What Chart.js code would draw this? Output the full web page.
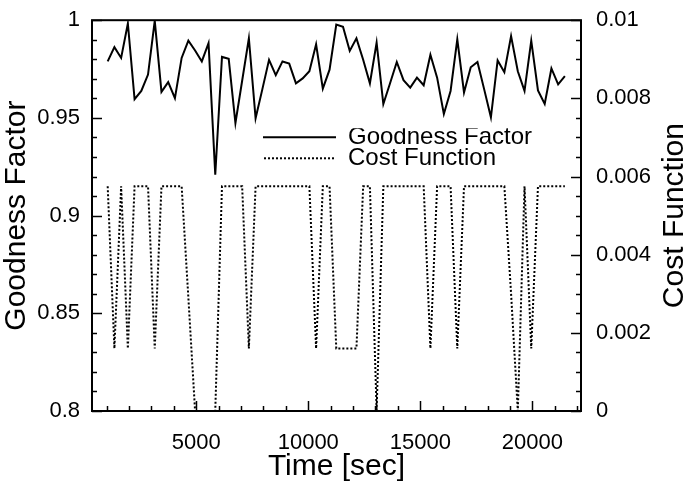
<!DOCTYPE html>
<html>
<head>
<meta charset="utf-8">
<script src="https://cdn.jsdelivr.net/npm/chart.js@4.4.1/dist/chart.umd.min.js"></script>
<style>
html,body{margin:0;padding:0;background:#fff;}
#wrap{width:687px;height:485px;position:relative;}
</style>
</head>
<body>
<div id="wrap"><canvas id="c" width="687" height="485"></canvas></div>
<script>
// ---- data ----
const times = [1050,1350,1650,1950,2250,2550,2850,3150,3450,3750,4050,4350,4650,4950,5250,5550,5850,6150,6450,6750,7050,7350,7650,7950,8250,8550,8850,9150,9450,9750,10050,10350,10650,10950,11250,11550,11850,12150,12450,12750,13050,13350,13650,13950,14250,14550,14850,15150,15450,15750,16050,16350,16650,16950,17250,17550,17850,18150,18450,18750,19050,19350,19650,19950,20250,20550,20850,21150,21450];

const goodness = [0.9789,0.9862,0.9807,0.9983,0.9596,0.9638,0.9722,0.9997,0.9633,0.9683,
  0.9601,0.9807,0.9895,0.9845,0.9789,0.9882,0.9209,0.9812,0.9802,0.9473,
  0.9690,0.9907,0.9498,0.9646,0.9797,0.9719,0.9789,0.9778,0.9677,0.9702,
  0.9739,0.9877,0.9650,0.9747,0.9978,0.9966,0.9843,0.9907,0.9798,0.9677,
  0.9885,0.9571,0.9677,0.9786,0.9693,0.9655,0.9706,0.9667,0.9823,0.9706,
  0.9520,0.9638,0.9902,0.9630,0.9759,0.9786,0.9646,0.9503,0.9794,0.9734,
  0.9919,0.9739,0.9638,0.9895,0.9641,0.9572,0.9753,0.9672,0.9714];

const cost = [0.00575,0.0016,0.00575,0.0016,0.00575,0.00575,0.00575,0.0016,0.00575,0.00575,
  0.00575,0.00575,0.0029,0,0,0,0,0.00575,0.00575,0.00575,
  0.00575,0.0016,0.00575,0.00575,0.00575,0.00575,0.00575,0.00575,0.00575,0.00575,
  0.00575,0.0016,0.00575,0.00575,0.0016,0.0016,0.0016,0.0016,0.00575,0.00575,
  0,0.00575,0.00575,0.00575,0.00575,0.00575,0.00575,0.00575,0.0016,0.00575,
  0.00575,0.00575,0.0016,0.00575,0.00575,0.00575,0.00575,0.00575,0.00575,0.00575,
  0.003,0,0.00575,0.0016,0.00575,0.00575,0.00575,0.00575,0.00575];

const xTickLabels = [5000,10000,15000,20000];
const leftTickLabels = [0.8,0.85,0.9,0.95,1];
const rightTickLabels = [0,0.002,0.004,0.006,0.008,0.01];

// ---- chart ----
const FONT = '"Liberation Sans", Arial, Helvetica, sans-serif';
const TITLE_SIZE = 30;

const goodnessPts = times.map((t,i)=>({x:t,y:goodness[i]}));
const costPts = times.map((t,i)=>({x:t,y:cost[i]}));

function drawTicks(ctx, scale, from, to, step, majorEvery, horizontal, side){
  const n = Math.round((to-from)/step);
  for(let k=0;k<=n;k++){
    const v = from + k*step;
    const major = (Math.abs(Math.round(v/majorEvery)*majorEvery - v) < step*1e-3);
    const len = major ? 10 : 5;
    const p = Math.round(scale.getPixelForValue(v)) + 0.5;
    ctx.beginPath();
    if(horizontal){
      ctx.moveTo(p, side.y); ctx.lineTo(p, side.y - len);
    } else {
      ctx.moveTo(side.x, p); ctx.lineTo(side.x + side.dir*len, p);
    }
    ctx.stroke();
  }
}

const framePlugin = {
  id:'frame',
  afterLayout(chart){
    // right-hand axis title reads bottom-to-top, like the left one
    const s = chart.scales.y2;
    if(s && !s.__flipped){
      const orig = s.drawTitle;
      s.drawTitle = function(){
        const ctx = this.ctx;
        const lh = TITLE_SIZE*0.8;
        const cx = this.right - lh/2;
        const cy = (this.top + this.bottom)/2;
        ctx.save();
        ctx.translate(cx,cy); ctx.rotate(Math.PI); ctx.translate(-cx,-cy);
        orig.apply(this, arguments);
        ctx.restore();
      };
      s.__flipped = true;
    }
  },
  beforeDraw(chart){
    const lg = chart.legend;
    if(lg){
      lg.left = 263; lg.top = 128.3; lg.right = 570; lg.bottom = chart.chartArea.bottom;
    }
  },
  afterDraw(chart){
    const ctx = chart.ctx, a = chart.chartArea;
    ctx.save();
    ctx.strokeStyle = '#000';
    ctx.lineWidth = 2;
    ctx.setLineDash([]);
    ctx.strokeRect(a.left, a.top, a.right-a.left, a.bottom-a.top);
    ctx.lineWidth = 1.5;
    drawTicks(ctx, chart.scales.x, 1000, 22000, 1000, 5000, true, {y:a.bottom});
    drawTicks(ctx, chart.scales.y, 0.8, 1.0, 0.01, 0.05, false, {x:a.left, dir:1});
    drawTicks(ctx, chart.scales.y2, 0, 0.01, 0.0005, 0.002, false, {x:a.right, dir:-1});
    ctx.restore();
  }
};

new Chart(document.getElementById('c'), {
  type:'line',
  data:{
    datasets:[
      {label:'Goodness Factor', data:goodnessPts, yAxisID:'y', borderColor:'#000', backgroundColor:'#000',
       borderWidth:2, pointRadius:0, tension:0, fill:false},
      {label:'Cost Function', data:costPts, yAxisID:'y2', borderColor:'#000', backgroundColor:'#000',
       borderWidth:2, borderDash:[2,2], pointRadius:0, tension:0, fill:false}
    ]
  },
  options:{
    responsive:false, animation:false, devicePixelRatio:1,
    layout:{padding:{top:14,left:0,right:0,bottom:0}},
    events:[],
    scales:{
      x:{
        type:'linear', position:'bottom', min:350, max:22170,
        grid:{display:false}, border:{display:false},
        afterBuildTicks(s){ s.ticks = xTickLabels.map(v=>({value:v})); },
        afterFit(s){ s.height = 74; },
        ticks:{autoSkip:false, maxRotation:0, padding:11, color:'#000', font:{family:FONT,size:22},
               callback:(v)=>String(v)},
        title:{display:true, text:'Time [sec]', color:'#000', font:{family:FONT,size:TITLE_SIZE,lineHeight:1.2}, padding:{top:0,bottom:0}}
      },
      y:{
        type:'linear', position:'left', min:0.8, max:1.0,
        grid:{display:false}, border:{display:false},
        afterBuildTicks(s){ s.ticks = leftTickLabels.map(v=>({value:v})); },
        afterFit(s){ s.width = 92; },
        ticks:{autoSkip:false, padding:4, color:'#000', font:{family:FONT,size:22}, callback:(v)=>String(v)},
        title:{display:true, text:'Goodness Factor', color:'#000', font:{family:FONT,size:TITLE_SIZE,lineHeight:1.0}, padding:{top:2,bottom:0}}
      },
      y2:{
        type:'linear', position:'right', min:0, max:0.01,
        grid:{display:false}, border:{display:false},
        afterBuildTicks(s){ s.ticks = rightTickLabels.map(v=>({value:v})); },
        afterFit(s){ s.width = 106; },
        ticks:{autoSkip:false, padding:7, color:'#000', font:{family:FONT,size:22}, callback:(v)=>String(v)},
        title:{display:true, text:'Cost Function', color:'#000', font:{family:FONT,size:TITLE_SIZE,lineHeight:0.8}, padding:{top:0,bottom:0}}
      }
    },
    plugins:{
      tooltip:{enabled:false},
      legend:{
        display:true, position:'chartArea', align:'start',
        labels:{usePointStyle:true, pointStyle:'line', pointStyleWidth:76, boxHeight:24,
                padding:-3, color:'#000', font:{family:FONT,size:24},
                generateLabels(chart){
                  const items = Chart.defaults.plugins.legend.labels.generateLabels(chart);
                  items.forEach((it,i)=>{
                    const ds = chart.data.datasets[i];
                    it.lineDash = ds.borderDash || [];
                    it.lineWidth = ds.borderWidth;
                    it.strokeStyle = ds.borderColor;
                    it.pointStyle = 'line';
                  });
                  return items;
                }}
      }
    }
  },
  plugins:[framePlugin]
});
</script>
</body>
</html>
